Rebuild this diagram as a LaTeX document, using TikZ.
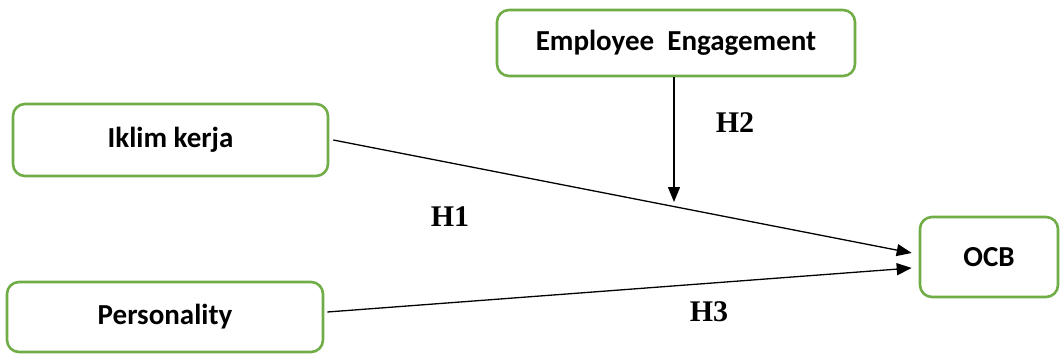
\documentclass[tikz,border=0pt]{standalone}
\usepackage{fontspec}
\setmainfont{Liberation Serif}
\newfontfamily\boxfont{Carlito}
\usetikzlibrary{arrows.meta,calc}
\definecolor{boxgreen}{HTML}{70AD47}
\tikzset{
  varbox/.style={draw=boxgreen, line width=2.6pt, rounded corners=12pt, fill=white,
    font=\boxfont\bfseries\fontsize{29}{33}\selectfont, inner sep=0pt, anchor=center},
  arr/.style={line width=1.3pt, -{Triangle[length=15pt,width=12pt]}},
  hyp/.style={font=\bfseries\fontsize{30}{34}\selectfont, anchor=center}
}
\begin{document}
\begin{tikzpicture}[x=1pt,y=-1pt]
\useasboundingbox (0,0) rectangle (1060,354);
\node[varbox, minimum width=358pt, minimum height=66pt] (ee) at (676,43) {Employee\ \ Engagement};
\node[varbox, minimum width=315pt, minimum height=72pt] (iklim) at (170.5,140) {Iklim kerja};
\node[varbox, minimum width=316pt, minimum height=70pt] (pers) at (165,317) {Personality};
\node[varbox, minimum width=138pt, minimum height=80pt] (ocb) at (989,257) {OCB};
\coordinate (tipA) at ($(ocb.west)+(-7,-4)$);
\coordinate (tipB) at ($(ocb.west)+(-7,11)$);
\coordinate (startA) at ($(iklim.east)+(4,0)$);
\coordinate (startB) at ($(pers.east)+(3,-5)$);
\coordinate (eetop) at ($(ee.south)+(-2,0)$);
\coordinate (eetip) at (674,202);
\draw[arr] (startA) -- (tipA);
\draw[arr] (startB) -- (tipB);
\draw[arr] (eetop) -- (eetip);
\node[hyp] (h1) at (450,217) {H1};
\node[hyp] (h2) at (735,123) {H2};
\node[hyp] (h3) at (709,312) {H3};
\end{tikzpicture}
\end{document}
